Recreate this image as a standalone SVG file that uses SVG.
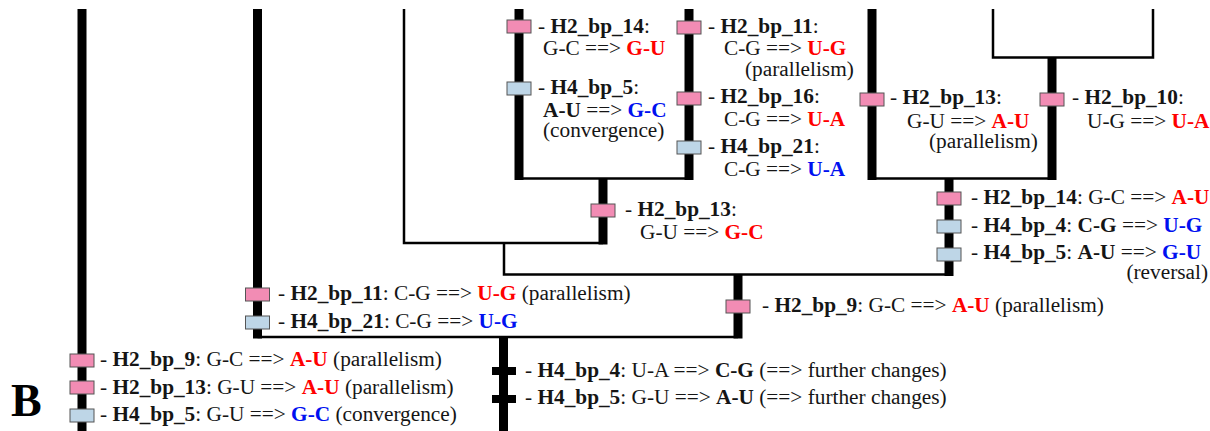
<svg xmlns="http://www.w3.org/2000/svg" width="1210" height="431" viewBox="0 0 1210 431">
<style>
text{font-family:"Liberation Serif","DejaVu Serif",serif;font-size:21.3px;fill:#151515}
.b{font-weight:bold}
.r{font-weight:bold;fill:#f00}
.u{font-weight:bold;fill:#0010f0}
.thick{stroke:#000;stroke-width:9;fill:none}
.thin{stroke:#000;stroke-width:2.5;fill:none}
.p{fill:#f28cb4;stroke:#555;stroke-width:1}
.g{fill:#bed6e7;stroke:#555;stroke-width:1}
.k{fill:#000}
</style>
<rect width="1210" height="431" fill="#fff"/>
<g id="connectors">
<line class="thick" x1="82" y1="9" x2="82" y2="431"/>
<line class="thick" x1="257.5" y1="9" x2="257.5" y2="338.5"/>
<line class="thick" x1="519" y1="9" x2="519" y2="180"/>
<line class="thick" x1="689" y1="9" x2="689" y2="180"/>
<line class="thick" x1="603" y1="178" x2="603" y2="244.5"/>
<line class="thick" x1="872" y1="9" x2="872" y2="180"/>
<line class="thick" x1="1052" y1="57" x2="1052" y2="180"/>
<line class="thick" x1="949" y1="178" x2="949" y2="276"/>
<line class="thick" x1="738" y1="274" x2="738" y2="338.5"/>
<line class="thick" x1="503.5" y1="336" x2="503.5" y2="431"/>
<polyline class="thin" points="404,9 404,243 603,243"/>
<polyline class="thin" points="993,9 993,57.5 1153,57.5 1153,9"/>
<polyline class="thin" points="504,243 504,274.5 949,274.5"/>
<line class="thin" x1="519" y1="178.5" x2="689" y2="178.5"/>
<line class="thin" x1="872" y1="178.5" x2="1052" y2="178.5"/>
<line class="thin" x1="257.5" y1="337" x2="738" y2="337"/>
</g>
<g id="n_l1_h2bp14">
<rect class="p" x="507" y="20" width="24" height="13"/>
<text x="538" y="33">- <tspan class="b">H2_bp_14</tspan>:</text>
<text x="543" y="55">G-C ==&gt; <tspan class="r">G-U</tspan></text>
</g>
<g id="n_l1_h4bp5">
<rect class="g" x="507" y="82" width="24" height="13"/>
<text x="538" y="94">- <tspan class="b">H4_bp_5</tspan>:</text>
<text x="543" y="117"><tspan class="b">A-U</tspan> ==&gt; <tspan class="u">G-C</tspan></text>
<text x="543" y="137">(convergence)</text>
</g>
<g id="n_r1_h2bp11">
<rect class="p" x="677" y="21" width="24" height="13"/>
<text x="708" y="33">- <tspan class="b">H2_bp_11</tspan>:</text>
<text x="724" y="55">C-G ==&gt; <tspan class="r">U-G</tspan></text>
<text x="745" y="76">(parallelism)</text>
</g>
<g id="n_r1_h2bp16">
<rect class="p" x="677" y="92" width="24" height="13"/>
<text x="708" y="103">- <tspan class="b">H2_bp_16</tspan>:</text>
<text x="724" y="126">C-G ==&gt; <tspan class="r">U-A</tspan></text>
</g>
<g id="n_r1_h4bp21">
<rect class="g" x="677" y="141" width="24" height="13"/>
<text x="708" y="153">- <tspan class="b">H4_bp_21</tspan>:</text>
<text x="724" y="176">C-G ==&gt; <tspan class="u">U-A</tspan></text>
</g>
<g id="n_m_h2bp13">
<rect class="p" x="591" y="204" width="24" height="13"/>
<text x="625" y="216">- <tspan class="b">H2_bp_13</tspan>:</text>
<text x="640" y="239">G-U ==&gt; <tspan class="r">G-C</tspan></text>
</g>
<g id="n_c_h2bp13">
<rect class="p" x="860" y="93" width="24" height="13"/>
<text x="890" y="104">- <tspan class="b">H2_bp_13</tspan>:</text>
<text x="907" y="128">G-U ==&gt; <tspan class="r">A-U</tspan></text>
<text x="929" y="148">(parallelism)</text>
</g>
<g id="n_d_h2bp10">
<rect class="p" x="1040" y="93" width="24" height="13"/>
<text x="1072" y="104">- <tspan class="b">H2_bp_10</tspan>:</text>
<text x="1087" y="128">U-G ==&gt; <tspan class="r">U-A</tspan></text>
</g>
<g id="n_e_changes">
<rect class="p" x="937" y="192" width="24" height="13"/>
<rect class="g" x="937" y="220" width="24" height="13"/>
<rect class="g" x="937" y="248" width="24" height="13"/>
<text x="971" y="204">- <tspan class="b">H2_bp_14</tspan>: G-C ==&gt; <tspan class="r">A-U</tspan></text>
<text x="971" y="232">- <tspan class="b">H4_bp_4</tspan>: <tspan class="b">C-G</tspan> ==&gt; <tspan class="u">U-G</tspan></text>
<text x="971" y="259">- <tspan class="b">H4_bp_5</tspan>: <tspan class="b">A-U</tspan> ==&gt; <tspan class="u">G-U</tspan></text>
<text x="1208" y="279" text-anchor="end">(reversal)</text>
</g>
<g id="n_f_h2bp9">
<rect class="p" x="726" y="300" width="24" height="13"/>
<text x="762" y="312">- <tspan class="b">H2_bp_9</tspan>: G-C ==&gt; <tspan class="r">A-U</tspan> (parallelism)</text>
</g>
<g id="n_g_changes">
<rect class="p" x="245.5" y="288" width="24" height="13"/>
<rect class="g" x="245.5" y="316" width="24" height="13"/>
<text x="278" y="300">- <tspan class="b">H2_bp_11</tspan>: C-G ==&gt; <tspan class="r">U-G</tspan> (parallelism)</text>
<text x="278" y="328">- <tspan class="b">H4_bp_21</tspan>: C-G ==&gt; <tspan class="u">U-G</tspan></text>
</g>
<g id="n_h_changes">
<rect class="p" x="70" y="354" width="24" height="13"/>
<rect class="p" x="70" y="381" width="24" height="13"/>
<rect class="g" x="70" y="409" width="24" height="13"/>
<text x="100" y="366">- <tspan class="b">H2_bp_9</tspan>: G-C ==&gt; <tspan class="r">A-U</tspan> (parallelism)</text>
<text x="100" y="394">- <tspan class="b">H2_bp_13</tspan>: G-U ==&gt; <tspan class="r">A-U</tspan> (parallelism)</text>
<text x="100" y="421">- <tspan class="b">H4_bp_5</tspan>: G-U ==&gt; <tspan class="u">G-C</tspan> (convergence)</text>
</g>
<g id="n_i_changes">
<rect class="k" x="492" y="367" width="24" height="8"/>
<rect class="k" x="492" y="395" width="24" height="8"/>
<text x="525" y="377">- <tspan class="b">H4_bp_4</tspan>: U-A ==&gt; <tspan class="b">C-G</tspan> (==&gt; further changes)</text>
<text x="525" y="404">- <tspan class="b">H4_bp_5</tspan>: G-U ==&gt; <tspan class="b">A-U</tspan> (==&gt; further changes)</text>
</g>
<g id="label_B">
<text x="11" y="416" style="font-size:46px;font-weight:bold;fill:#000">B</text>
</g>
</svg>
